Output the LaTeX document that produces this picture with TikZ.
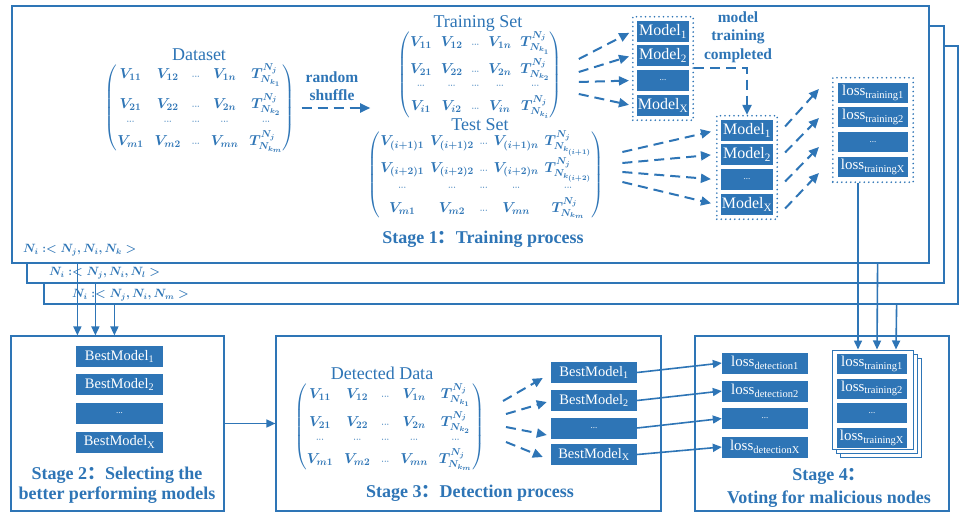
\documentclass[tikz,border=0pt]{standalone}
\usepackage{amsmath}
\usepackage{fontspec}
\setmainfont{Liberation Serif}
\newfontfamily\cjk{Noto Sans CJK SC}
\usetikzlibrary{arrows.meta,positioning,fit,shadows}

\definecolor{flowblue}{RGB}{46,117,182}
% tiny dots used inside the data matrices
\newcommand{\sdots}{{\scriptscriptstyle\cdots}}

\begin{document}
\begin{tikzpicture}[x=1pt,y=-1pt,
    every node/.style={text=flowblue},
    stageframe/.style={draw=flowblue, line width=1.2pt, fill=white, inner sep=0pt},
    blk/.style={fill=flowblue, text=white, inner sep=0pt, minimum height=21pt},
    grp/.style={draw=flowblue, line width=1.8pt, dash pattern=on 0pt off 4.5pt, line cap=round, inner sep=4pt},
    dasharr/.style={draw=flowblue, line width=2pt, dash pattern=on 10pt off 6pt, -{Triangle[length=10pt,width=9pt]}},
    arr/.style={draw=flowblue, line width=1.6pt, -{Triangle[length=9pt,width=8pt]}},
    mat/.style={font=\fontsize{14}{16}\selectfont\boldmath, inner sep=0pt},
    tuple/.style={font=\fontsize{12}{14}\selectfont\boldmath, inner sep=0pt, anchor=west},
    ttl/.style={font=\fontsize{18}{20}\selectfont},
    stg/.style={font=\fontsize{18}{20}\selectfont\bfseries, align=center},
  ]
  \fill[white] (0,0) rectangle (960,513);
  \useasboundingbox (0,0) rectangle (960,513);

  % stage 1: three stacked rounds
  \node[stageframe, minimum width=914pt, minimum height=258pt] (frameC) at (501,175) {};
  \node[stageframe, minimum width=917pt, minimum height=257pt] (frameB) at (485.5,154.5) {};
  \node[stageframe, minimum width=917pt, minimum height=257pt] (frameA) at (470.5,134.5) {};
  \node[tuple] (tupleK) at (23,250) {$N_i : < N_j, N_i, N_k >$};
  \node[tuple] (tupleL) at (49,273) {$N_i : < N_j, N_i, N_l >$};
  \node[tuple] (tupleM) at (72,295) {$N_i : < N_j, N_i, N_m >$};

  \node[ttl] (dataTitle) at (199,55) {Dataset};
  \node[mat] (dataMat) at (200,108) {\setlength{\arraycolsep}{5.5pt}$\left(\begin{array}{@{}ccccc@{}}
      V_{11} & V_{12} & \sdots & V_{1n} & T^{N_j}_{N_{k_1}}\\[10pt]
      V_{21} & V_{22} & \sdots & V_{2n} & T^{N_j}_{N_{k_2}}\\[-4pt]
      \sdots & \sdots & \sdots & \sdots & \sdots\\[3pt]
      V_{m1} & V_{m2} & \sdots & V_{mn} & T^{N_j}_{N_{k_m}}
    \end{array}\right)$};
  \node[font=\fontsize{15.5}{18.5}\selectfont\bfseries, align=center] (shuffle) at (332,86) {random\\shuffle};

  \node[ttl] (trainTitle) at (478,23) {Training Set};
  \node[mat] (trainMat) at (480,75) {\setlength{\arraycolsep}{4.5pt}$\left(\begin{array}{@{}ccccc@{}}
      V_{11} & V_{12} & \sdots & V_{1n} & T^{N_j}_{N_{k_1}}\\[7pt]
      V_{21} & V_{22} & \sdots & V_{2n} & T^{N_j}_{N_{k_2}}\\[-4pt]
      \sdots & \sdots & \sdots & \sdots & \sdots\\[3pt]
      V_{i1} & V_{i2} & \sdots & V_{in} & T^{N_j}_{N_{k_i}}
    \end{array}\right)$};
  \node[ttl] (testTitle) at (480,125) {Test Set};
  \node[mat] (testMat) at (486,175) {\setlength{\arraycolsep}{3pt}$\left(\begin{array}{@{}ccccc@{}}
      V_{(i+1)1} & V_{(i+1)2} & \sdots & V_{(i+1)n} & T^{N_j}_{N_{k_{(i+1)}}}\\[7pt]
      V_{(i+2)1} & V_{(i+2)2} & \sdots & V_{(i+2)n} & T^{N_j}_{N_{k_{(i+2)}}}\\[-4pt]
      \sdots & \sdots & \sdots & \sdots & \sdots\\[3pt]
      V_{m1} & V_{m2} & \sdots & V_{mn} & T^{N_j}_{N_{k_m}}
    \end{array}\right)$};
  \node[stg] (stageOneLbl) at (483,239) {Stage 1{\cjk ：}Training process};

  % models trained on the training set
  \node[blk, minimum width=52pt, font=\fontsize{16}{17}\selectfont] (modelA1) at (663,31.5) {Model\textsubscript{1}};
  \node[blk, minimum width=52pt, font=\fontsize{16}{17}\selectfont] (modelA2) at (663,55.5) {Model\textsubscript{2}};
  \node[blk, minimum width=52pt, font=\fontsize{9}{9}\selectfont] (modelA3) at (663,80.5) {...};
  \node[blk, minimum width=52pt, font=\fontsize{16}{17}\selectfont] (modelAX) at (663,105.5) {Model\textsubscript{X}};
  \node[grp, fit=(modelA1)(modelAX)] (modelsA) {};
  \node[font=\fontsize{15.5}{18.5}\selectfont\bfseries, align=center] (doneLbl) at (738,37) {model\\training\\completed};

  % the same models run on the test set
  \node[blk, minimum width=52pt, font=\fontsize{16}{17}\selectfont] (modelB1) at (747,130.5) {Model\textsubscript{1}};
  \node[blk, minimum width=52pt, font=\fontsize{16}{17}\selectfont] (modelB2) at (747,154.5) {Model\textsubscript{2}};
  \node[blk, minimum width=52pt, font=\fontsize{9}{9}\selectfont] (modelB3) at (747,179.5) {...};
  \node[blk, minimum width=52pt, font=\fontsize{16}{17}\selectfont] (modelBX) at (747,204.5) {Model\textsubscript{X}};
  \node[grp, fit=(modelB1)(modelBX)] (modelsB) {};

  \node[blk, minimum width=70pt, minimum height=20pt, font=\fontsize{15}{16}\selectfont] (lossT1) at (873,93) {loss\textsubscript{training1}};
  \node[blk, minimum width=70pt, minimum height=20pt, font=\fontsize{15}{16}\selectfont] (lossT2) at (873,117) {loss\textsubscript{training2}};
  \node[blk, minimum width=70pt, minimum height=20pt, font=\fontsize{9}{9}\selectfont] (lossT3) at (873,142) {...};
  \node[blk, minimum width=70pt, minimum height=20pt, font=\fontsize{15}{16}\selectfont] (lossTX) at (873,167) {loss\textsubscript{trainingX}};
  \node[grp, inner sep=5pt, fit=(lossT1)(lossTX)] (lossGrp) {};

  \draw[dasharr, shorten <=6pt, shorten >=27pt] (dataMat.east) -- (dataMat.east -| trainMat.west);
  \draw[dasharr, shorten >=3pt] ([shift={(16,-16)}]trainMat.east) -- (modelsA.west |- modelA1);
  \draw[dasharr, shorten >=3pt] ([shift={(16,-3)}]trainMat.east) -- (modelsA.west |- modelA2);
  \draw[dasharr, shorten >=3pt] ([shift={(16,7)}]trainMat.east) -- (modelsA.west |- modelA3);
  \draw[dasharr, shorten >=3pt] ([shift={(16,19)}]trainMat.east) -- (modelsA.west |- modelAX);
  \draw[dasharr] (modelsA.east) -| (modelsB.north);
  \draw[dasharr, shorten >=5pt] ([shift={(18,-23)}]testMat.east) -- (modelsB.west |- modelB1);
  \draw[dasharr, shorten >=5pt] ([shift={(18,-12)}]testMat.east) -- (modelsB.west |- modelB2);
  \draw[dasharr, shorten >=5pt] ([shift={(18,-3)}]testMat.east) -- (modelsB.west |- modelB3);
  \draw[dasharr, shorten >=5pt] ([shift={(18,7)}]testMat.east) -- (modelsB.west |- modelBX);
  \draw[dasharr] ([shift={(7,-4)}]modelsB.east |- modelB1) -- ([shift={(-13,-4)}]lossGrp.west |- lossT1);
  \draw[dasharr] ([shift={(7,-2)}]modelsB.east |- modelB2) -- ([shift={(-13,1)}]lossGrp.west |- lossT2);
  \draw[dasharr] ([shift={(7,2)}]modelsB.east |- modelB3) -- ([shift={(-13,5)}]lossGrp.west |- lossT3);
  \draw[dasharr] ([shift={(7,4)}]modelsB.east |- modelBX) -- ([shift={(-13,6)}]lossGrp.west |- lossTX);

  % stage 2
  \node[stageframe, minimum width=213pt, minimum height=175pt] (stageTwo) at (117.5,423.5) {};
  \node[blk, minimum width=87pt, font=\fontsize{14.5}{16}\selectfont] (bestA1) at (119.5,356.5) {BestModel\textsubscript{1}};
  \node[blk, minimum width=87pt, font=\fontsize{14.5}{16}\selectfont] (bestA2) at (119.5,384.5) {BestModel\textsubscript{2}};
  \node[blk, minimum width=87pt, font=\fontsize{9}{9}\selectfont] (bestA3) at (119.5,413.5) {...};
  \node[blk, minimum width=87pt, font=\fontsize{14.5}{16}\selectfont] (bestAX) at (119.5,442) {BestModel\textsubscript{X}};
  \node[stg] (stageTwoLbl) at (117,485) {Stage 2{\cjk ：}Selecting the\\better performing models};

  % stage 3
  \node[stageframe, minimum width=385pt, minimum height=175pt] (stageThree) at (468.5,423.5) {};
  \node[ttl] (detTitle) at (382,373) {Detected Data};
  \node[mat] (detMat) at (389.5,427) {\setlength{\arraycolsep}{5.5pt}$\left(\begin{array}{@{}ccccc@{}}
      V_{11} & V_{12} & \sdots & V_{1n} & T^{N_j}_{N_{k_1}}\\[8pt]
      V_{21} & V_{22} & \sdots & V_{2n} & T^{N_j}_{N_{k_2}}\\[-4pt]
      \sdots & \sdots & \sdots & \sdots & \sdots\\[3pt]
      V_{m1} & V_{m2} & \sdots & V_{mn} & T^{N_j}_{N_{k_m}}
    \end{array}\right)$};
  \node[blk, minimum width=86pt, font=\fontsize{14.5}{16}\selectfont] (bestB1) at (594,372.5) {BestModel\textsubscript{1}};
  \node[blk, minimum width=86pt, font=\fontsize{14.5}{16}\selectfont] (bestB2) at (594,400.5) {BestModel\textsubscript{2}};
  \node[blk, minimum width=86pt, font=\fontsize{9}{9}\selectfont] (bestB3) at (594,428) {...};
  \node[blk, minimum width=86pt, font=\fontsize{14.5}{16}\selectfont] (bestBX) at (594,454.5) {BestModel\textsubscript{X}};
  \node[stg] (stageThreeLbl) at (470,493) {Stage 3{\cjk ：}Detection process};

  % stage 4
  \node[stageframe, minimum width=254pt, minimum height=175pt] (stageFour) at (822,423.5) {};
  \node[blk, minimum width=86pt, font=\fontsize{15}{16}\selectfont] (lossD1) at (765,363) {loss\textsubscript{detection1}};
  \node[blk, minimum width=86pt, font=\fontsize{15}{16}\selectfont] (lossD2) at (765,391) {loss\textsubscript{detection2}};
  \node[blk, minimum width=86pt, font=\fontsize{9}{9}\selectfont] (lossD3) at (765,418.5) {...};
  \node[blk, minimum width=86pt, font=\fontsize{15}{16}\selectfont] (lossDX) at (765,447) {loss\textsubscript{detectionX}};
  \node[draw=flowblue, fill=white, line width=1pt, minimum width=81pt, minimum height=99pt,
        double copy shadow={shadow xshift=4pt, shadow yshift=-4pt, draw=flowblue, fill=white, line width=1pt}] (lossStack) at (872.5,399.5) {};
  \node[blk, minimum width=70pt, minimum height=20pt, font=\fontsize{15}{16}\selectfont] (lossS1) at (872,364) {loss\textsubscript{training1}};
  \node[blk, minimum width=70pt, minimum height=20pt, font=\fontsize{15}{16}\selectfont] (lossS2) at (872,388.5) {loss\textsubscript{training2}};
  \node[blk, minimum width=70pt, minimum height=20pt, font=\fontsize{9}{9}\selectfont] (lossS3) at (872,413) {...};
  \node[blk, minimum width=70pt, minimum height=20pt, font=\fontsize{15}{16}\selectfont] (lossSX) at (872,438) {loss\textsubscript{trainingX}};
  \node[stg, font=\fontsize{18}{23}\selectfont\bfseries] (stageFourLbl) at (829,488) {Stage 4{\cjk ：}\\ Voting for malicious nodes};

  % results of every round go to stage 2 and stage 4
  \draw[arr] ([xshift=66pt]frameA.south west) -- ([xshift=67pt]stageTwo.north west);
  \draw[arr] ([xshift=69pt]frameB.south west) -- ([xshift=85pt]stageTwo.north west);
  \draw[arr] ([xshift=71pt]frameC.south west) -- ([xshift=104pt]stageTwo.north west);
  \draw[arr] ([xshift=-15pt]lossGrp.south) -- ([xshift=-14.5pt]lossStack.north);
  \draw[arr] ([xshift=-52pt]frameA.south east) -- ([xshift=4.5pt]lossStack.north);
  \draw[arr] ([xshift=-62pt]frameC.south east) -- ([xshift=23.5pt]lossStack.north);

  \draw[arr] (stageTwo.east) -- (stageThree.west);
  \draw[dasharr] ([shift={(18,-26)}]detMat.east) -- ([shift={(-8,5.5)}]bestB1.west);
  \draw[dasharr] ([shift={(21,-13)}]detMat.east) -- ([shift={(-4,1.5)}]bestB2.west);
  \draw[dasharr] ([shift={(21,0)}]detMat.east) -- ([shift={(-4,7)}]bestB3.west);
  \draw[dasharr] ([shift={(21,15)}]detMat.east) -- ([shift={(-8,2.5)}]bestBX.west);
  \draw[arr] (bestB1.east) -- (lossD1.west);
  \draw[arr] (bestB2.east) -- (lossD2.west);
  \draw[arr] (bestB3.east) -- (lossD3.west);
  \draw[arr] (bestBX.east) -- (lossDX.west);
\end{tikzpicture}
\end{document}
